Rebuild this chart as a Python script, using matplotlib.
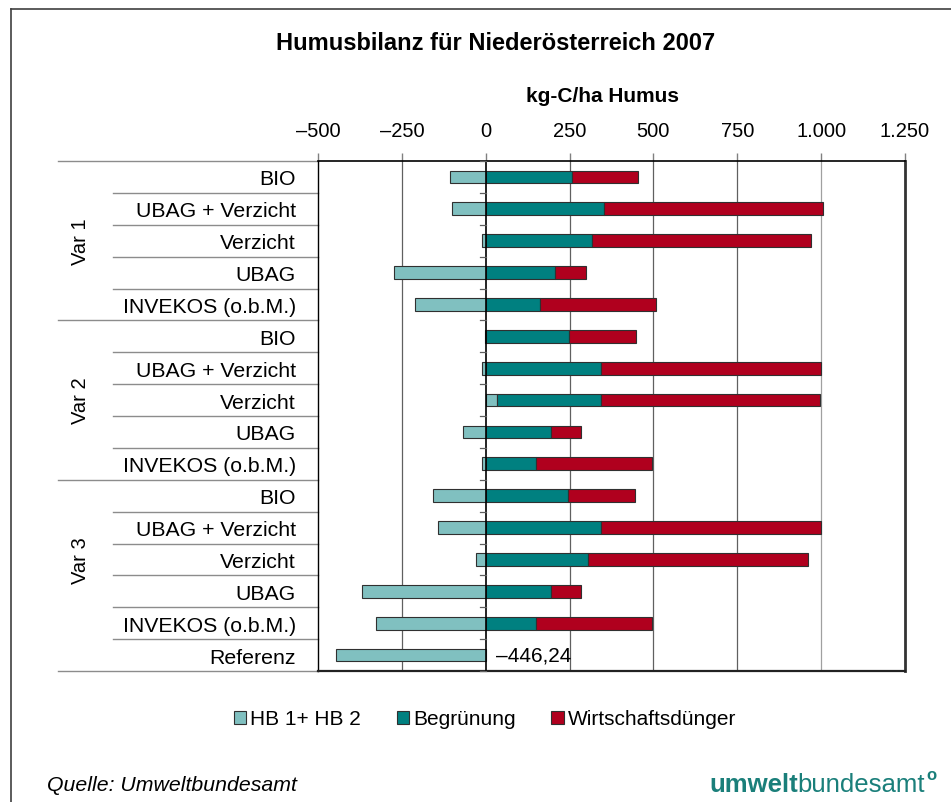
import matplotlib
matplotlib.use("Agg")
import matplotlib.pyplot as plt
from matplotlib.patches import Patch
from matplotlib.lines import Line2D
import matplotlib.transforms as mtransforms

plt.rcParams['font.family'] = ['Liberation Sans', 'DejaVu Sans']

categories = ["BIO", "UBAG + Verzicht", "Verzicht", "UBAG", "INVEKOS (o.b.M.)"] * 3 + ["Referenz"]
groups = ["Var 1", "Var 2", "Var 3"]
hb = [-106, -102, -12, -272, -212,
      -3, -12, 35, -69, -12,
      -157, -143, -30, -368, -327,
      -446.24]
begr = [258, 353, 316, 207, 162,
        249, 344, 308, 194, 149,
        246, 345, 306, 195, 149,
        0]
wd = [197, 654, 654, 91, 347,
      200, 656, 653, 91, 346,
      200, 655, 655, 90, 346,
      0]
xticks = [-500, -250, 0, 250, 500, 750, 1000, 1250]
xticklabels = ["–500", "–250", "0", "250", "500", "750", "1.000", "1.250"]
series_names = ["HB 1+ HB 2", "Begrünung", "Wirtschaftsdünger"]
colors = ["#80C0C0", "#008080", "#B0001E"]

W, H = 951, 803
fig = plt.figure(figsize=(W / 100, H / 100), dpi=100)
fig.patch.set_facecolor("white")

L, R, T, B = 318, 905, 162, 672
ax = fig.add_axes([L / W, 1 - B / H, (R - L) / W, (B - T) / H])

n = len(categories)
ys = list(range(n))
bh = 0.4
ec = "#303030"
for i in ys:
    h = hb[i]
    ax.barh(i, h, left=0, height=bh, color=colors[0], edgecolor=ec, linewidth=0.8, zorder=3)
    start = max(h, 0)
    if begr[i]:
        ax.barh(i, begr[i], left=start, height=bh, color=colors[1], edgecolor=ec, linewidth=0.8, zorder=3)
    if wd[i]:
        ax.barh(i, wd[i], left=start + begr[i], height=bh, color=colors[2], edgecolor=ec, linewidth=0.8, zorder=3)

ax.set_xlim(-500, 1250)
ax.set_ylim(n - 0.5, -0.5)

# gridlines
for xv in [-250, 250, 500, 750]:
    ax.axvline(xv, color="#606060", lw=0.9, zorder=1)
ax.axvline(1000, color="#A0A0A0", lw=0.9, zorder=1)
ax.axvline(0, color="black", lw=1.2, zorder=4)
# small ticks on zero line at row boundaries
for k in range(n + 1):
    ax.plot([-18, 0], [k - 0.5, k - 0.5], color="#606060", lw=0.9, zorder=4, clip_on=False)

ax.xaxis.tick_top()
ax.set_xticks(xticks)
ax.set_xticklabels(xticklabels, fontsize=14.5)
ax.tick_params(axis="x", length=6, width=1, color="#808080", pad=9)
ax.set_yticks(ys)
ax.set_yticklabels(categories, fontsize=15.3)
ax.tick_params(axis="y", length=0, pad=16)

ax.spines["top"].set_color("black")
ax.spines["top"].set_linewidth(1.2)
ax.spines["left"].set_color("black")
ax.spines["left"].set_linewidth(1.0)
ax.spines["bottom"].set_color("#222222")
ax.spines["bottom"].set_linewidth(1.6)
ax.spines["right"].set_color("#333333")
ax.spines["right"].set_linewidth(2.0)

# separator lines outside axes
trans = mtransforms.blended_transform_factory(fig.transFigure, ax.transData)
group_bounds = [-0.5, 4.5, 9.5, 15.5]
for k in range(n + 1):
    yb = k - 0.5
    x0 = 58 if yb in group_bounds else 113
    ax.plot([x0 / W, L / W], [yb, yb], transform=trans, color="#8C8C8C", lw=1.0, clip_on=False)

for gi, g in enumerate(groups):
    ax.text(80 / W, gi * 5 + 2, g, transform=trans, rotation=90, fontsize=14.5,
            ha="center", va="center")

# annotation
ax.text(30, 15, "–446,24", fontsize=15, ha="left", va="center", zorder=5)

# titles
fig.text(496 / W, 1 - 44 / H, "Humusbilanz für Niederösterreich 2007", fontsize=17,
         fontweight="bold", ha="center", va="center")
fig.text(603 / W, 1 - 97 / H, "kg-C/ha Humus", fontsize=15, fontweight="bold",
         ha="center", va="center")

# legend
handles = [Patch(facecolor=c, edgecolor=ec, linewidth=0.8) for c in colors]
fig.legend(handles, series_names, loc="center", bbox_to_anchor=(485 / W, 1 - 720 / H),
           ncol=3, frameon=False, fontsize=15, handlelength=0.6, handleheight=0.6,
           handletextpad=0.2, columnspacing=1.7)

fig.text(47 / W, 1 - 786 / H, "Quelle: Umweltbundesamt", fontsize=15.3, style="italic",
         ha="left", va="center")

# logo
logo_col = "#1A7F7A"
t1 = fig.text(709 / W, 1 - 792 / H, "umwelt", fontsize=18.5, fontweight="bold",
              color=logo_col, ha="left", va="baseline")
fig.canvas.draw()
r = fig.canvas.get_renderer()
bb = t1.get_window_extent(r)
t2 = fig.text(bb.x1 / W, 1 - 792 / H, "bundesamt", fontsize=18.5, color=logo_col,
              ha="left", va="baseline")
bb2 = t2.get_window_extent(r)
fig.text(bb2.x1 / W + 0.001, 1 - 780 / H, "o", fontsize=12, fontweight="bold",
         color=logo_col, ha="left", va="baseline")

# outer frame
fig.add_artist(Line2D([11 / W, 11 / W], [0, 1 - 10 / H], transform=fig.transFigure,
                      color="#404040", lw=1.2))
fig.add_artist(Line2D([11 / W, 1], [1 - 10 / H, 1 - 10 / H], transform=fig.transFigure,
                      color="#404040", lw=1.2))

fig.savefig("out.png", dpi=100)
